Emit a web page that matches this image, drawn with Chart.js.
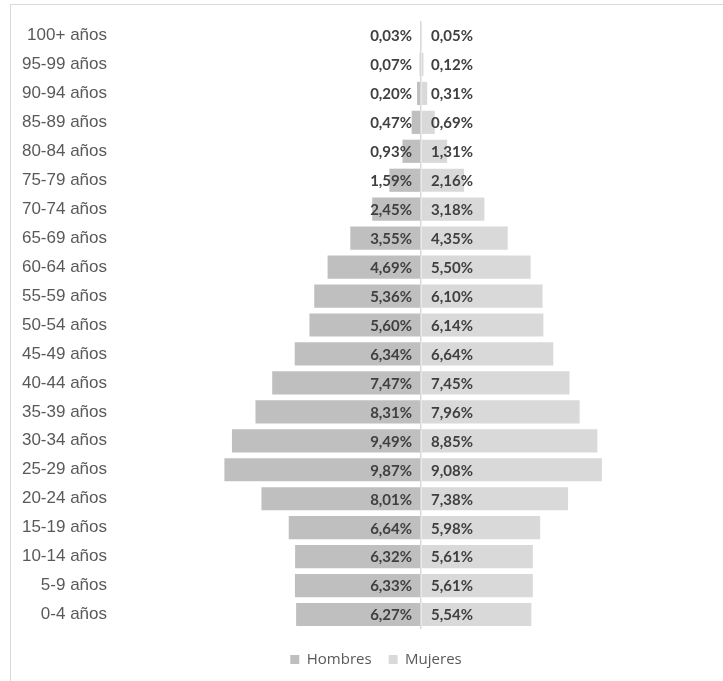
<!DOCTYPE html>
<html><head><meta charset="utf-8">
<script src="https://cdn.jsdelivr.net/npm/chart.js@4.4.1/dist/chart.umd.min.js"></script>
<style>
html,body{margin:0;padding:0;background:#fff;overflow:hidden;width:723px;height:681px;position:relative}
#frame{position:absolute;left:10px;top:4px;width:800px;height:800px;border-left:1px solid #d9d9d9;border-top:1px solid #d9d9d9;box-sizing:border-box}
#title{position:absolute;left:0;width:723px;top:-21px;text-align:center;font:italic 19px "Liberation Sans",Arial,sans-serif;color:#222;white-space:nowrap}
#wrap{position:absolute;left:0;top:0;width:742px;height:681px}
</style></head><body>
<div id="title">Estructura de la distribución de la población en Bogotá</div>
<div id="frame"></div>
<div id="wrap"><canvas id="c" width="742" height="681"></canvas></div>
<script>
const categories = ['100+ años','95-99 años','90-94 años','85-89 años','80-84 años','75-79 años','70-74 años','65-69 años','60-64 años','55-59 años','50-54 años','45-49 años','40-44 años','35-39 años','30-34 años','25-29 años','20-24 años','15-19 años','10-14 años','5-9 años','0-4 años'];
const hombres = [0.03,0.07,0.20,0.47,0.93,1.59,2.45,3.55,4.69,5.36,5.60,6.34,7.47,8.31,9.49,9.87,8.01,6.64,6.32,6.33,6.27];
const mujeres = [0.05,0.12,0.31,0.69,1.31,2.16,3.18,4.35,5.50,6.10,6.14,6.64,7.45,7.96,8.85,9.08,7.38,5.98,5.61,5.61,5.54];
const seriesNames = ['Hombres','Mujeres'];

const labelPlugin = {
  id:'vals',
  afterDatasetsDraw(chart){
    const ctx = chart.ctx;
    const x0 = chart.scales.x.getPixelForValue(0);
    ctx.save();
    ctx.font = 'bold 15px Lato';
    ctx.fillStyle = '#404040';
    ctx.textBaseline = 'middle';
    chart.data.datasets.forEach((ds, di) => {
      const meta = chart.getDatasetMeta(di);
      meta.data.forEach((bar, i) => {
        const txt = Math.abs(ds.data[i]).toFixed(2).replace('.', ',') + '%';
        if (di === 0) { ctx.textAlign = 'right'; ctx.fillText(txt, x0 - 9, bar.y + 1); }
        else { ctx.textAlign = 'left'; ctx.fillText(txt, x0 + 10, bar.y + 1); }
      });
    });
    ctx.restore();
  }
};

new Chart(document.getElementById('c'), {
  type: 'bar',
  data: {
    labels: categories,
    datasets: [
      {label: seriesNames[0], data: hombres.map(v => -v), backgroundColor: '#bfbfbf', barPercentage: 0.8, categoryPercentage: 1},
      {label: seriesNames[1], data: mujeres, backgroundColor: '#d9d9d9', barPercentage: 0.8, categoryPercentage: 1}
    ]
  },
  options: {
    indexAxis: 'y',
    responsive: false,
    animation: false,
    devicePixelRatio: 1,
    layout: {padding: {left: 10, right: 0, top: 21, bottom: 4}},
    scales: {
      x: {
        stacked: true, min: -15.26, max: 16.11,
        afterBuildTicks(s){ s.ticks = [{value: 0}]; },
        afterFit(s){ s.height = 6; },
        ticks: {display: false},
        grid: {drawTicks: false, color: '#d9d9d9', lineWidth: 1.5, z: 1},
        border: {display: false}
      },
      y: {
        stacked: true,
        afterFit(s){ s.width = 107; },
        ticks: {color: '#595959', font: {family: 'Liberation Sans', size: 17}, padding: 10},
        grid: {display: false, drawTicks: false},
        border: {display: false}
      }
    },
    plugins: {
      legend: {position: 'bottom', labels: {boxWidth: 9, boxHeight: 9, color: '#595959', font: {family: 'Open Sans', size: 15}, padding: 17}},
      tooltip: {enabled: false}
    }
  },
  plugins: [labelPlugin]
});
</script>
</body></html>
